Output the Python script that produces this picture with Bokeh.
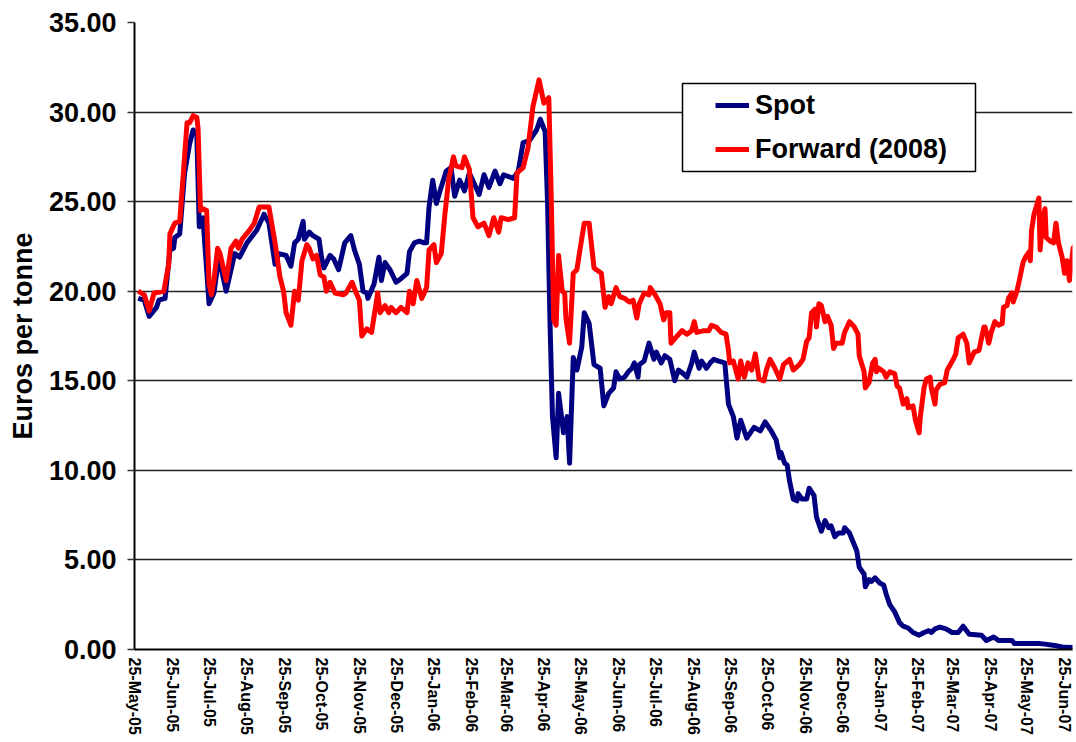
import math
import pandas as pd
from bokeh.plotting import figure
from bokeh.models import (Range1d, FixedTicker, DatetimeTickFormatter, NumeralTickFormatter,
                          Legend, LegendItem, BoxAnnotation, ColumnDataSource)
from bokeh.embed import file_html
from bokeh.resources import INLINE

# ---------------- data ----------------
start_date = "2005-05-25"

tick_labels = ["25-May-05", "25-Jun-05", "25-Jul-05", "25-Aug-05", "25-Sep-05", "25-Oct-05",
               "25-Nov-05", "25-Dec-05", "25-Jan-06", "25-Feb-06", "25-Mar-06", "25-Apr-06",
               "25-May-06", "25-Jun-06", "25-Jul-06", "25-Aug-06", "25-Sep-06", "25-Oct-06",
               "25-Nov-06", "25-Dec-06", "25-Jan-07", "25-Feb-07", "25-Mar-07", "25-Apr-07",
               "25-May-07", "25-Jun-07"]

y_ticks = [0, 5, 10, 15, 20, 25, 30, 35]

# days after 25-May-05
spot_days = [3, 8, 12, 18, 20, 25, 29, 32, 33, 37, 41, 45, 48, 51, 53, 56, 61, 65, 69, 75,
             82, 86, 92, 100, 106, 110, 115, 118, 124, 128, 131, 134, 138, 139, 143, 146, 151, 153, 155, 160,
             163, 167, 172, 177, 180, 184, 187, 190, 191, 196, 200, 202, 205, 209, 214, 218, 223, 225, 229, 233,
             237, 239, 241, 244, 247, 250, 255, 259, 262, 266, 270, 274, 278, 282, 286, 290, 295, 299, 302, 310,
             314, 318, 323, 329, 332, 336, 338, 340, 342, 345, 347, 351, 354, 356, 359, 362, 366, 368, 372, 376,
             381, 384, 388, 392, 394, 397, 401, 404, 407, 409, 412, 413, 417, 419, 421, 425, 427, 431, 434, 438,
             442, 445, 449, 452, 456, 458, 462, 464, 468, 471, 474, 478, 483, 486, 490, 493, 496, 501, 505, 507,
             512, 516, 521, 525, 528, 529, 532, 534, 536, 539, 542, 543, 546, 550, 552, 556, 558, 562, 565, 568,
             570, 573, 576, 580, 581, 585, 588, 591, 593, 597, 598, 601, 603, 606, 610, 613, 615, 618, 622, 626,
             629, 633, 637, 642, 646, 650, 652, 655, 659, 664, 669, 674, 678, 683, 693, 697, 703, 707, 718, 720,
             740, 745, 753, 761, 770]
spot_values = [19.6, 19.5, 18.6, 19.1, 19.5, 19.6, 22.3, 22.4, 23.0, 23.2, 26.6, 28.2, 29.0, 28.7, 23.6, 24.1, 19.3, 19.9, 21.9, 20.0,
               22.1, 21.9, 22.7, 23.4, 24.3, 23.8, 21.5, 22.1, 22.0, 21.4, 22.7, 22.9, 23.9, 22.9, 23.3, 23.1, 22.9, 21.9, 21.3, 22.0,
               21.8, 21.2, 22.7, 23.1, 22.3, 21.5, 20.0, 19.9, 19.6, 20.4, 21.9, 20.6, 21.6, 21.2, 20.5, 20.7, 21.0, 22.2, 22.7, 22.8,
               22.7, 22.7, 24.7, 26.2, 24.9, 25.6, 26.7, 26.9, 25.3, 26.2, 25.6, 26.6, 26.0, 25.4, 26.5, 25.8, 26.7, 26.0, 26.5, 26.3,
               26.7, 28.3, 28.4, 29.0, 29.6, 28.9, 24.9, 18.2, 13.0, 10.7, 14.3, 12.1, 13.0, 10.4, 16.3, 15.6, 16.9, 18.8, 18.2, 15.9,
               15.7, 13.6, 14.3, 14.6, 15.5, 15.1, 15.2, 15.5, 15.7, 16.0, 15.2, 15.9, 16.1, 16.6, 17.1, 16.2, 16.6, 16.0, 16.4, 16.2,
               15.0, 15.6, 15.4, 15.2, 16.0, 16.6, 15.7, 16.1, 15.7, 16.0, 16.2, 16.1, 16.0, 13.7, 13.0, 11.8, 12.8, 11.8, 12.2, 12.4,
               12.2, 12.7, 12.2, 11.7, 10.7, 11.0, 10.4, 10.3, 9.4, 8.4, 8.3, 8.7, 8.4, 8.4, 9.0, 8.6, 7.4, 6.6, 7.2, 6.8,
               6.9, 6.3, 6.5, 6.5, 6.8, 6.5, 6.0, 5.5, 4.6, 4.2, 3.5, 3.9, 3.8, 4.0, 3.7, 3.6, 3.1, 2.5, 2.1, 1.5,
               1.3, 1.2, 0.95, 0.8, 0.95, 1.05, 0.95, 1.15, 1.25, 1.15, 0.95, 0.95, 1.3, 0.85, 0.8, 0.5, 0.7, 0.5, 0.5, 0.33,
               0.33, 0.3, 0.22, 0.12, 0.1]

forward_days = [3, 8, 12, 16, 24, 28, 29, 33, 37, 40, 43, 45, 48, 51, 52, 54, 56, 59, 61, 63,
                65, 68, 70, 75, 79, 83, 85, 88, 94, 98, 102, 110, 115, 119, 122, 124, 128, 131, 134, 137,
                141, 143, 146, 149, 152, 155, 157, 160, 164, 171, 173, 178, 182, 184, 186, 190, 194, 199, 201, 205,
                208, 210, 214, 218, 223, 225, 228, 231, 235, 239, 241, 245, 247, 251, 254, 257, 261, 263, 268, 270,
                274, 277, 281, 286, 290, 294, 298, 300, 306, 311, 313, 318, 322, 326, 331, 335, 339, 341, 343, 345,
                347, 350, 352, 353, 356, 359, 362, 364, 368, 372, 376, 382, 385, 388, 390, 394, 397, 401, 405, 408,
                411, 413, 417, 421, 422, 426, 430, 433, 435, 438, 439, 444, 448, 452, 456, 458, 460, 466, 470, 472,
                476, 480, 484, 486, 487, 490, 494, 496, 499, 502, 505, 508, 511, 515, 517, 520, 524, 528, 531, 536,
                539, 544, 547, 550, 552, 554, 557, 558, 560, 562, 565, 567, 570, 572, 574, 579, 581, 585, 589, 592,
                593, 597, 598, 601, 604, 606, 607, 609, 613, 615, 618, 622, 624, 626, 629, 632, 633, 637, 639, 642,
                643, 646, 648, 651, 652, 655, 656, 659, 663, 665, 670, 672, 674, 678, 681, 683, 687, 691, 695, 696,
                699, 701, 704, 707, 710, 711, 714, 715, 718, 719, 722, 724, 727, 729, 732, 733, 734, 736, 740, 741,
                743, 745, 746, 749, 752, 754, 756, 759, 761, 763, 765, 768, 770]
forward_values = [20.0, 19.8, 18.9, 19.9, 20.0, 21.5, 23.2, 23.8, 23.9, 26.6, 29.4, 29.4, 29.8, 29.7, 29.1, 24.5, 24.6, 24.5, 20.4, 19.8,
                  20.6, 22.4, 22.1, 20.6, 22.4, 22.8, 22.4, 22.9, 23.4, 23.8, 24.7, 24.7, 22.7, 20.8, 20.0, 18.8, 18.1, 20.0, 19.5, 21.7,
                  22.6, 22.4, 21.8, 22.0, 20.9, 20.8, 20.0, 20.5, 19.9, 19.8, 19.9, 20.5, 19.8, 19.5, 17.5, 17.9, 17.7, 19.9, 18.8, 19.2,
                  18.8, 19.1, 18.8, 19.1, 18.8, 20.0, 19.3, 20.6, 19.6, 20.2, 22.3, 22.6, 21.6, 22.1, 24.3, 26.2, 27.5, 27.0, 26.9, 27.5,
                  26.8, 24.1, 23.6, 23.8, 23.1, 24.1, 23.3, 24.1, 24.0, 24.1, 26.6, 26.9, 28.0, 30.3, 31.8, 30.5, 30.8, 25.2, 18.4, 18.1,
                  22.0, 20.0, 19.9, 18.5, 17.1, 21.0, 21.2, 22.1, 23.8, 23.8, 21.3, 21.0, 19.1, 19.7, 19.3, 20.2, 19.7, 19.6, 19.4, 19.5,
                  18.5, 19.3, 19.9, 19.8, 20.2, 19.8, 19.3, 18.4, 18.8, 18.8, 17.1, 17.5, 17.8, 17.6, 17.8, 18.3, 17.7, 17.8, 17.8, 18.1,
                  18.0, 17.7, 17.6, 16.7, 16.0, 16.1, 15.1, 16.1, 15.2, 16.0, 15.6, 16.5, 15.1, 15.0, 15.6, 16.2, 15.7, 15.1, 15.9, 16.2,
                  15.6, 15.9, 16.2, 17.2, 17.4, 18.8, 19.0, 18.0, 19.3, 19.2, 18.3, 18.6, 18.1, 16.8, 17.1, 17.1, 17.7, 18.3, 18.0, 17.6,
                  16.4, 15.5, 14.6, 14.9, 16.0, 16.2, 15.5, 15.7, 15.5, 15.2, 15.5, 15.4, 14.7, 14.6, 13.7, 14.0, 13.5, 13.6, 12.8, 12.1,
                  13.0, 14.6, 15.1, 15.2, 14.6, 13.7, 14.5, 14.8, 14.9, 15.6, 16.2, 16.5, 17.4, 17.6, 17.1, 16.0, 16.6, 16.7, 18.0, 18.0,
                  17.1, 17.7, 18.3, 18.1, 18.2, 19.1, 19.2, 19.6, 19.9, 19.4, 20.0, 20.6, 21.6, 21.9, 22.2, 21.7, 23.4, 24.3, 25.2, 22.3,
                  23.9, 24.6, 23.0, 22.8, 22.7, 23.8, 22.7, 21.9, 21.0, 21.7, 20.6, 22.4, 22.6]

series_names = ["Spot", "Forward (2008)"]
series_colors = ["#000080", "#FF0000"]

# ---------------- build ----------------
start = pd.Timestamp(start_date)
spot_src = ColumnDataSource(dict(x=start + pd.to_timedelta(spot_days, unit="D"), y=spot_values))
fwd_src = ColumnDataSource(dict(x=start + pd.to_timedelta(forward_days, unit="D"), y=forward_values))
tick_dates = pd.to_datetime(tick_labels, format="%d-%b-%y")
tick_ms = [float(t.value // 10**6) for t in tick_dates]

FONT = "Liberation Sans"

p = figure(width=1074, height=742, output_backend="svg", toolbar_location=None,
           x_axis_type="datetime",
           x_range=Range1d(start=start, end=start + pd.Timedelta(days=767.5)),
           y_range=Range1d(0, 35),
           min_border_left=134, min_border_right=2, min_border_top=22, min_border_bottom=93)
p.outline_line_color = None
p.background_fill_color = "white"
p.border_fill_color = "white"

r1 = p.line("x", "y", source=spot_src, line_color=series_colors[0], line_width=5, line_join="round")
r2 = p.line("x", "y", source=fwd_src, line_color=series_colors[1], line_width=5, line_join="round")

# x axis
xa = p.xaxis[0]
xa.ticker = FixedTicker(ticks=tick_ms)
fmt = "%d-%b-%y"
xa.formatter = DatetimeTickFormatter(microseconds=fmt, milliseconds=fmt, seconds=fmt, minsec=fmt,
                                     minutes=fmt, hourmin=fmt, hours=fmt, days=fmt, months=fmt, years=fmt)
xa.major_label_orientation = -math.pi / 2
xa.major_label_text_font = FONT
xa.major_label_text_font_style = "bold"
xa.major_label_text_font_size = "16px"
xa.major_label_text_color = "black"
xa.major_label_standoff = 8
xa.major_tick_out = 0
xa.major_tick_in = 0
xa.minor_tick_out = 0
xa.minor_tick_in = 0
xa.axis_line_color = "black"
xa.axis_line_width = 2

# y axis
ya = p.yaxis[0]
ya.ticker = FixedTicker(ticks=y_ticks)
ya.formatter = NumeralTickFormatter(format="0.00")
ya.major_label_text_font = FONT
ya.major_label_text_font_style = "bold"
ya.major_label_text_font_size = "27px"
ya.major_label_text_color = "black"
ya.major_tick_out = 7
ya.major_tick_in = 0
ya.major_tick_line_color = "#333333"
ya.major_tick_line_width = 1.5
ya.minor_tick_out = 0
ya.minor_tick_in = 0
ya.major_label_standoff = 11
ya.axis_line_color = "black"
ya.axis_line_width = 2
ya.axis_label = "Euros per tonne"
ya.axis_label_text_font = FONT
ya.axis_label_text_font_style = "bold"
ya.axis_label_text_font_size = "27px"
ya.axis_label_text_color = "black"
ya.axis_label_standoff = 8

p.xgrid.grid_line_color = None
p.ygrid.grid_line_color = "#222222"
p.ygrid.grid_line_width = 1.5

# legend box + legend
box = BoxAnnotation(left=548, right=841, bottom=478, top=566,
                    left_units="screen", right_units="screen",
                    bottom_units="screen", top_units="screen",
                    fill_color="white", fill_alpha=1.0,
                    line_color="black", line_width=1.5, line_alpha=1.0)
p.add_layout(box)

legend = Legend(items=[LegendItem(label=series_names[0], renderers=[r1]),
                       LegendItem(label=series_names[1], renderers=[r2])],
                location=(581, 478), padding=0, spacing=0, margin=0,
                glyph_width=34, glyph_height=44, label_height=44, label_standoff=6,
                label_text_font=FONT, label_text_font_style="bold",
                label_text_font_size="27px", label_text_color="black",
                border_line_color=None, background_fill_alpha=0)
p.add_layout(legend)

open("out.html", "w").write(file_html(p, INLINE))
